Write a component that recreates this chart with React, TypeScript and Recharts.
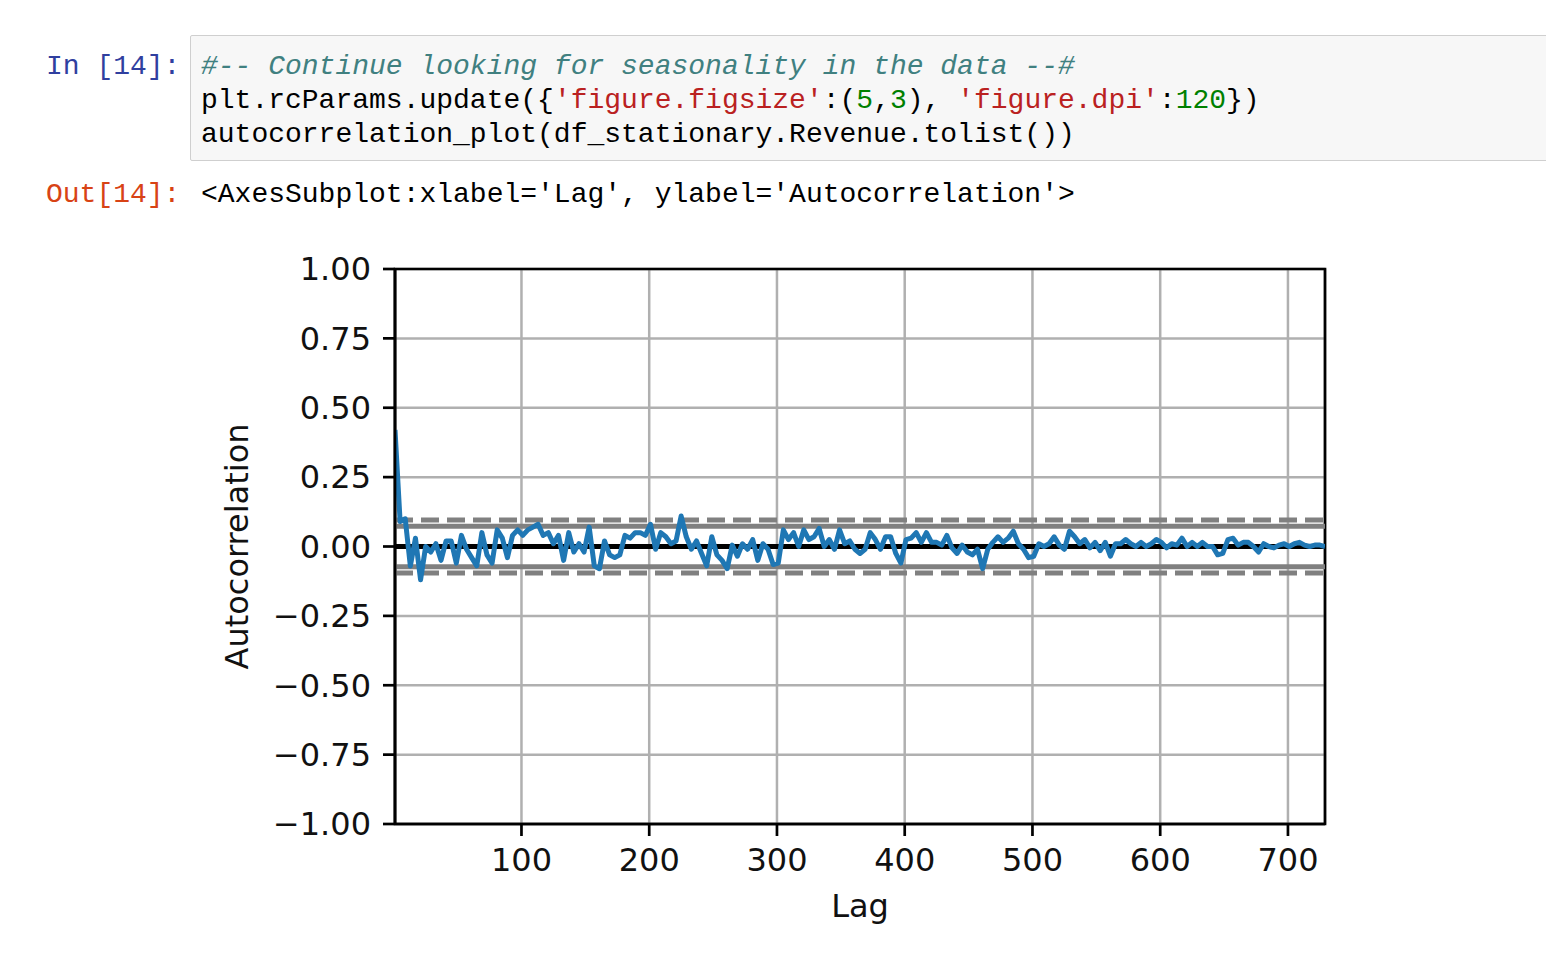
import React from "react";
import {
  LineChart,
  Line,
  XAxis,
  YAxis,
  CartesianGrid,
  ReferenceLine,
  ReferenceArea,
  Label,
} from "recharts";

// autocorrelation, one value every LAG_STEP lags
const FIRST_LAG = 1;
const LAST_LAG = 729;
const LAG_STEP = 4;
const acfValues = [
  0.42, 0.09, 0.1, -0.07, 0.03, -0.12, 0.0, -0.02, 0.01, -0.05,
  0.02, 0.02, -0.06, 0.04, -0.01, -0.04, -0.07, 0.05, -0.03, -0.06,
  0.06, 0.03, -0.04, 0.04, 0.06, 0.04, 0.06, 0.07, 0.08, 0.04,
  0.05, 0.01, 0.04, -0.05, 0.05, -0.02, 0.01, -0.02, 0.07, -0.07,
  -0.08, 0.02, -0.03, -0.04, -0.03, 0.04, 0.03, 0.05, 0.05, 0.04,
  0.08, -0.01, 0.05, 0.035, 0.01, 0.02, 0.11, 0.035, -0.01, 0.02,
  -0.025, -0.07, 0.035, -0.03, -0.05, -0.08, 0.005, -0.035, 0.01, -0.01,
  0.025, -0.05, 0.01, -0.01, -0.065, -0.06, 0.06, 0.025, 0.05, 0.0,
  0.06, 0.025, 0.035, 0.065, 0.0, 0.025, -0.01, 0.06, 0.01, 0.02,
  -0.01, -0.025, -0.01, 0.05, 0.025, -0.01, 0.035, 0.035, -0.025, -0.06,
  0.025, 0.03, 0.05, 0.015, 0.05, 0.015, 0.015, 0.005, 0.04, -0.005,
  -0.025, 0.005, -0.02, -0.03, -0.01, -0.08, -0.01, 0.015, 0.035, 0.015,
  0.03, 0.055, 0.01, -0.01, -0.04, -0.035, 0.01, 0.0, 0.01, 0.035,
  0.005, -0.01, 0.055, 0.035, 0.01, 0.025, -0.005, 0.015, -0.015, 0.015,
  -0.035, 0.01, 0.01, 0.025, 0.01, 0.0, 0.015, 0.0, 0.01, 0.025,
  0.015, -0.005, 0.01, 0.005, 0.03, 0.0, 0.015, 0.0, 0.015, 0.0,
  0.0, -0.03, -0.025, 0.025, 0.03, 0.005, 0.015, 0.015, 0.0, -0.02,
  0.01, 0.0, -0.005, 0.005, 0.01, 0.0, 0.01, 0.015, 0.005, 0.0,
  0.005, 0.005, 0.0,
];

const xTicks = [100, 200, 300, 400, 500, 600, 700];
const yTicks = [-1, -0.75, -0.5, -0.25, 0, 0.25, 0.5, 0.75, 1];

// pandas confidence bands: z / sqrt(n)
const N_OBS = 729;
const Z95 = 1.959963984540054;
const Z99 = 2.5758293035489004;
const band95 = Z95 / Math.sqrt(N_OBS);
const band99 = Z99 / Math.sqrt(N_OBS);

const data = acfValues.map((v, i) => ({ lag: FIRST_LAG + i * LAG_STEP, acf: v }));

const MONO = "'Liberation Mono', 'DejaVu Sans Mono', monospace";
const PLOT_FONT = "'DejaVu Sans', sans-serif";
const TICK = { fontFamily: PLOT_FONT, fontSize: 32, fill: "#111" };

const fmtY = (v: number) => (v < 0 ? "\u2212" : "") + Math.abs(v).toFixed(2);

const red = { color: "#BA2121" };
const green = { color: "#008000" };

export default function App() {
  return (
    <div
      style={{
        position: "absolute",
        left: 0,
        top: 0,
        width: 1546,
        height: 956,
        background: "#fff",
        overflow: "hidden",
      }}
    >
      {/* input cell */}
      <div
        style={{
          position: "absolute",
          left: 46,
          top: 50,
          fontFamily: MONO,
          fontSize: 28,
          lineHeight: "34px",
          color: "#303F9F",
          whiteSpace: "pre",
        }}
      >
        In [14]:
      </div>
      <div
        style={{
          position: "absolute",
          left: 190,
          top: 35,
          width: 1360,
          height: 124,
          background: "#f7f7f7",
          border: "1px solid #cfcfcf",
          borderRadius: 2,
        }}
      />
      <div
        style={{
          position: "absolute",
          left: 201,
          top: 50,
          fontFamily: MONO,
          fontSize: 28,
          lineHeight: "34px",
          color: "#000",
          whiteSpace: "pre",
        }}
      >
        <div style={{ color: "#408080", fontStyle: "italic" }}>
          #-- Continue looking for seasonality in the data --#
        </div>
        <div>
          plt.rcParams.update({"{"}
          <span style={red}>'figure.figsize'</span>:(<span style={green}>5</span>,
          <span style={green}>3</span>), <span style={red}>'figure.dpi'</span>:
          <span style={green}>120</span>
          {"})"}
        </div>
        <div>autocorrelation_plot(df_stationary.Revenue.tolist())</div>
      </div>

      {/* output */}
      <div
        style={{
          position: "absolute",
          left: 46,
          top: 178,
          fontFamily: MONO,
          fontSize: 28,
          lineHeight: "34px",
          color: "#D84315",
          whiteSpace: "pre",
        }}
      >
        Out[14]:
      </div>
      <div
        style={{
          position: "absolute",
          left: 201,
          top: 178,
          fontFamily: MONO,
          fontSize: 28,
          lineHeight: "34px",
          color: "#000",
          whiteSpace: "pre",
        }}
      >
        {"<AxesSubplot:xlabel='Lag', ylabel='Autocorrelation'>"}
      </div>

      {/* autocorrelation plot */}
      <div style={{ position: "absolute", left: 0, top: 230 }}>
        <LineChart
          width={1400}
          height={720}
          data={data}
          margin={{ top: 39, right: 75, bottom: 0, left: 0 }}
        >
          <CartesianGrid stroke="#b0b0b0" strokeWidth={2.5} />
          <XAxis
            dataKey="lag"
            type="number"
            domain={[FIRST_LAG, LAST_LAG]}
            ticks={xTicks}
            allowDataOverflow
            height={126}
            tick={TICK}
            tickSize={12}
            tickMargin={12}
            stroke="#000"
            strokeWidth={2.7}
          >
            <Label
              content={({ viewBox }: any) => (
                <text
                  x={viewBox.x + viewBox.width / 2}
                  y={viewBox.y + 93}
                  textAnchor="middle"
                  fontFamily={PLOT_FONT}
                  fontSize={32}
                  fill="#111"
                >
                  Lag
                </text>
              )}
            />
          </XAxis>
          <YAxis
            type="number"
            domain={[-1, 1]}
            ticks={yTicks}
            width={395}
            tick={TICK}
            tickSize={12}
            tickMargin={12}
            tickFormatter={fmtY}
            stroke="#000"
            strokeWidth={2.7}
          >
            <Label
              content={({ viewBox }: any) => {
                const cx = 237;
                const cy = viewBox.y + viewBox.height / 2;
                return (
                  <text
                    x={cx}
                    y={cy}
                    transform={`rotate(-90 ${cx} ${cy})`}
                    textAnchor="middle"
                    dominantBaseline="central"
                    fontFamily={PLOT_FONT}
                    fontSize={32}
                    fill="#111"
                  >
                    Autocorrelation
                  </text>
                );
              }}
            />
          </YAxis>
          <ReferenceLine y={band99} stroke="#808080" strokeWidth={5} strokeDasharray="18 8" />
          <ReferenceLine y={band95} stroke="#808080" strokeWidth={5} />
          <ReferenceLine y={0} stroke="#000" strokeWidth={5} />
          <ReferenceLine y={-band95} stroke="#808080" strokeWidth={5} />
          <ReferenceLine y={-band99} stroke="#808080" strokeWidth={5} strokeDasharray="18 8" />
          <Line
            dataKey="acf"
            stroke="#1f77b4"
            strokeWidth={5}
            strokeLinejoin="round"
            dot={false}
            isAnimationActive={false}
          />
          <ReferenceArea
            x1={FIRST_LAG}
            x2={LAST_LAG}
            y1={-1}
            y2={1}
            fill="none"
            stroke="#000"
            strokeWidth={2.7}
          />
        </LineChart>
      </div>
    </div>
  );
}
